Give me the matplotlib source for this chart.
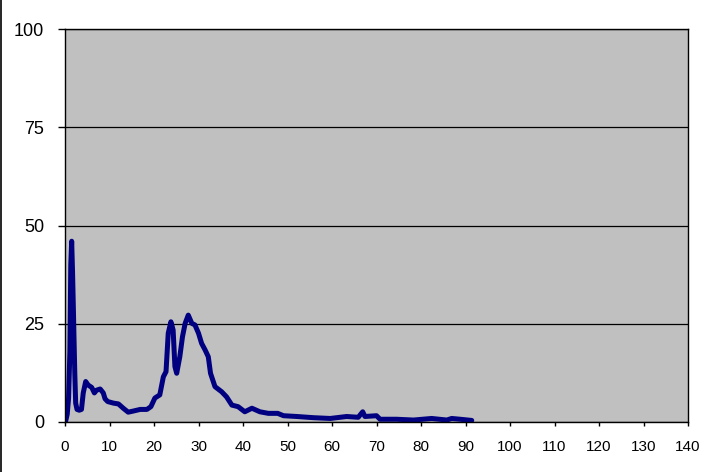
import matplotlib.pyplot as plt
from matplotlib.lines import Line2D

# values
x_vals = [0.1, 0.5, 0.8, 1.1, 1.3, 1.5, 1.7, 1.9, 2.0, 2.2, 2.4, 2.7, 3.2, 3.7,
          4.1, 4.65, 5.2, 6.0, 6.6, 7.1, 7.9, 8.6, 9.0, 9.6, 10.9, 12.0, 13.1,
          14.2, 15.4, 16.9, 18.4, 19.3, 20.2, 21.3, 22.1, 22.7, 23.2, 23.8, 24.3,
          24.7, 25.1, 25.8, 26.4, 27.0, 27.7, 28.5, 29.2, 30.0, 30.7, 31.5, 32.2,
          32.7, 33.7, 35.2, 36.3, 37.5, 38.9, 40.4, 42.0, 43.8, 45.7, 47.8, 49.1,
          52.1, 55.8, 59.6, 63.3, 65.9, 66.9, 67.4, 70.0, 70.8, 74.5, 78.3, 82.4,
          85.8, 86.9, 88.8, 91.4]
y_vals = [0, 2, 6, 18, 40, 46, 38, 28, 22.6, 12.4, 4.8, 3.2, 3.0, 3.2,
          7.4, 10.3, 9.4, 8.8, 7.4, 8.1, 8.4, 7.4, 5.9, 5.2, 4.8, 4.6, 3.5,
          2.5, 2.8, 3.2, 3.2, 3.9, 6.1, 6.9, 11.5, 12.8, 22.6, 25.5, 23.4,
          14.1, 12.4, 16.6, 21.7, 25.1, 27.2, 25.1, 24.7, 22.6, 20.0, 18.3, 16.6,
          12.4, 9.0, 7.7, 6.4, 4.3, 3.9, 2.6, 3.5, 2.6, 2.2, 2.2, 1.6,
          1.4, 1.1, 0.9, 1.4, 1.2, 2.6, 1.4, 1.6, 0.7, 0.7, 0.5, 0.9,
          0.5, 0.9, 0.7, 0.4]

x_ticks = list(range(0, 141, 10))
y_ticks = [0, 25, 50, 75, 100]

plt.rcParams['font.family'] = ['Liberation Sans', 'DejaVu Sans']

fig = plt.figure(figsize=(7.1, 4.72), dpi=100)
ax = fig.add_axes([65/710, 1-422/472, 623/710, 393/472])
ax.set_facecolor('#C0C0C0')

ax.plot(x_vals, y_vals, color='#000080', lw=3.6, solid_joinstyle='round',
        solid_capstyle='round')

ax.set_xlim(0, 140)
ax.set_ylim(0, 100)
ax.set_xticks(x_ticks)
ax.set_yticks(y_ticks)
ax.yaxis.grid(True, color='black', lw=0.9)
ax.set_axisbelow(True)

ax.tick_params(axis='y', labelsize=13, length=5, width=1, pad=10)
ax.tick_params(axis='x', labelsize=11, length=3, width=1, pad=10)
for s in ax.spines.values():
    s.set_color('black')
    s.set_linewidth(1)

# thin frame line on the left edge of the image
fig.add_artist(Line2D([0.001, 0.001], [0, 1], color='black', lw=1.2))

fig.savefig('out.png', dpi=100)
